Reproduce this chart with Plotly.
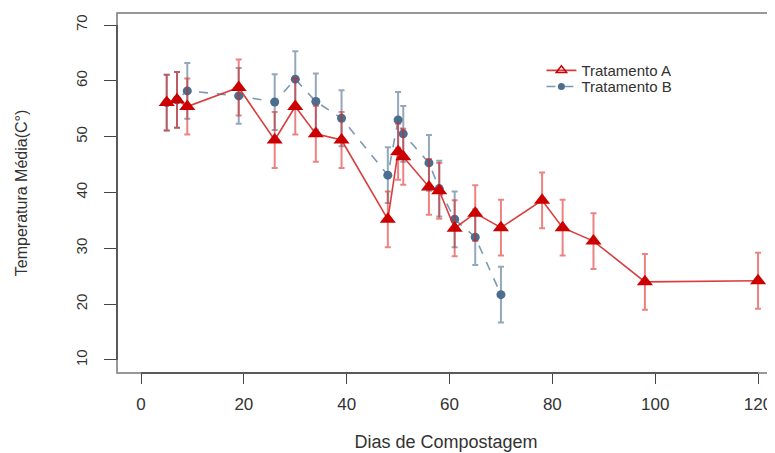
import plotly.graph_objects as go

# Data
days_A = [5, 7, 9, 19, 26, 30, 34, 39, 48, 50, 51, 56, 58, 61, 65, 70, 78, 82, 88, 98, 120]
temp_A = [56.1, 56.6, 55.4, 58.8, 49.4, 55.4, 50.5, 49.4, 35.2, 47.3, 46.4, 41.0, 40.3,
          33.6, 36.3, 33.7, 38.6, 33.7, 31.3, 24.0, 24.2]
err_A = [5, 5, 5, 5, 5, 5, 5, 5, 5, 5, 5, 5, 5, 5, 5, 5, 5, 5, 5, 5, 5]

days_B = [5, 7, 9, 19, 26, 30, 34, 39, 48, 50, 51, 56, 58, 61, 65, 70]
temp_B = [56.1, 56.6, 58.2, 57.3, 56.2, 60.3, 56.3, 53.3, 43.1, 53.0, 50.5, 45.3, 40.7,
          35.2, 32.0, 21.7]
err_B = [5, 5, 5, 5, 5, 5, 5, 5, 5, 5, 5, 5, 5, 5, 5, 5]

x_ticks = [0, 20, 40, 60, 80, 100, 120]
y_ticks = [10, 20, 30, 40, 50, 60, 70]

RED = "#CC0000"
BLUE = "#4B6E8E"
FONT = "Liberation Sans, Arial, sans-serif"
TXT = "#333333"

fig = go.Figure()

fig.add_trace(go.Scatter(
    x=days_B, y=temp_B, mode="lines+markers", showlegend=False,
    line=dict(color="rgba(100,135,165,0.85)", width=1.6, dash="dash"),
    marker=dict(symbol="circle", size=9, color=BLUE),
    error_y=dict(type="data", array=err_B, color="rgba(75,110,142,0.6)", thickness=2, width=3),
))
fig.add_trace(go.Scatter(
    x=days_A, y=temp_A, mode="lines+markers", showlegend=False,
    line=dict(color="rgba(214,40,40,0.9)", width=1.6),
    marker=dict(symbol="triangle-up", size=14, color=RED),
    error_y=dict(type="data", array=err_A, color="rgba(220,30,30,0.55)", thickness=2, width=3),
))

# legend-only entries (open triangle for A as in the reference legend)
fig.add_trace(go.Scatter(
    x=[None], y=[None], mode="lines+markers", name="Tratamento A", legend="legend",
    line=dict(color="rgba(214,40,40,0.9)", width=1.6),
    marker=dict(symbol="triangle-up-open", size=9, color=RED, line=dict(width=1.5)),
))
fig.add_trace(go.Scatter(
    x=[None], y=[None], mode="lines+markers", name="Tratamento B", legend="legend2",
    line=dict(color="rgba(100,135,165,0.85)", width=1.6, dash="dash"),
    marker=dict(symbol="circle", size=7, color=BLUE),
))

axis_common = dict(
    showgrid=False, zeroline=False, showline=False, automargin=False,
    ticks="outside", tickcolor="#444444", tickwidth=1.3, ticklabeloverflow="allow",
)

legend_common = dict(
    xanchor="left", yanchor="middle", bgcolor="rgba(0,0,0,0)",
    font=dict(family=FONT, size=15, color=TXT), itemwidth=30,
)

fig.update_layout(
    width=767, height=445,
    margin=dict(l=109, r=0, t=5, b=80, autoexpand=False),
    paper_bgcolor="white", plot_bgcolor="white",
    font=dict(family=FONT, color=TXT),
    xaxis=dict(
        range=[-4.67, 123.3], tickvals=x_ticks, ticklen=10, ticklabelstandoff=6,
        tickfont=dict(family=FONT, size=17, color=TXT),
        title=dict(text="Dias de Compostagem", font=dict(family=FONT, size=18, color=TXT), standoff=21),
        **axis_common,
    ),
    yaxis=dict(
        range=[7.67, 72.15], tickvals=y_ticks, ticklen=12, tickangle=-90,
        ticklabelstandoff=11,
        tickfont=dict(family=FONT, size=15, color=TXT),
        title=dict(text="Temperatura Média(C°)", font=dict(family=FONT, size=16, color=TXT), standoff=41),
        **axis_common,
    ),
    legend=dict(x=0.645, y=0.84, **legend_common),
    legend2=dict(x=0.645, y=0.795, **legend_common),
    shapes=[
        # plot box
        dict(type="rect", xref="paper", yref="paper", x0=0, x1=1, y0=0, y1=1,
             line=dict(color="#777777", width=1.5), layer="below"),
        # x axis line spanning tick range
        dict(type="line", xref="x", yref="paper", x0=x_ticks[0], x1=x_ticks[-1], y0=0, y1=0,
             line=dict(color="#444444", width=1.5)),
        # y axis line spanning tick range
        dict(type="line", xref="paper", yref="y", x0=0, x1=0, y0=y_ticks[0], y1=y_ticks[-1],
             line=dict(color="#444444", width=1.5)),
    ],
)

fig.write_html("out.html")
